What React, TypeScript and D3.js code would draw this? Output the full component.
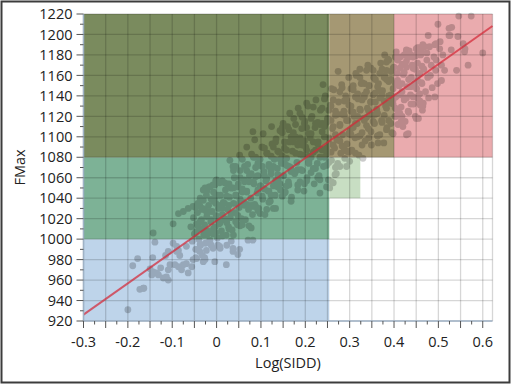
import React from "react";
import * as d3 from "d3";

// ---- data ----
const xTickLabels = [-0.3, -0.2, -0.1, 0, 0.1, 0.2, 0.3, 0.4, 0.5, 0.6];
const yTickLabels = [920, 940, 960, 980, 1000, 1020, 1040, 1060, 1080, 1100, 1120, 1140, 1160, 1180, 1200, 1220];
const xTitle = "Log(SIDD)";
const yTitle = "FMax";

// shaded regions: [x0, x1, y0, y1]
const regionBounds: [number, number, number, number][] = [
  [-0.3, 0.254, 920, 1000],
  [-0.3, 0.254, 1000, 1080],
  [-0.3, 0.254, 1080, 1220],
  [0.254, 0.324, 1040, 1080],
  [0.254, 0.4, 1080, 1220],
  [0.4, 0.622, 1080, 1220],
];
const regionColors = ["#bed4ea", "#7db296", "#7a8b5e", "#c8dec3", "#a59873", "#eaabae"];

// fitted line end points
const fitLine: [number, number][] = [
  [-0.3, 926.2],
  [0.622, 1208.3],
];

// scatter points [Log(SIDD), FMax]
const pointsOuter: [number, number][] = [
  [-0.2, 931], [-0.189, 974], [-0.178, 981], [-0.173, 951], [-0.164, 952], [-0.144, 982], [-0.139, 997], [-0.143, 1006],
  [-0.15, 971], [-0.143, 968], [-0.131, 965], [-0.12, 962], [-0.109, 960], [-0.126, 972], [-0.109, 970], [-0.105, 975],
  [-0.115, 984], [-0.109, 988], [-0.09, 988], [-0.083, 984], [-0.098, 996], [-0.09, 993], [-0.086, 973], [-0.079, 970],
  [-0.068, 976], [-0.056, 973], [-0.064, 967], [-0.053, 980], [-0.045, 981], [-0.03, 978], [-0.026, 980], [-0.004, 978],
  [0.022, 975], [-0.038, 988], [-0.023, 989], [-0.008, 991], [0.007, 993], [0.023, 994], [0.037, 991], [0.052, 990],
  [0.071, 999], [0.082, 999], [0.037, 988], [0.048, 985], [-0.098, 1015], [-0.086, 1025], [-0.075, 1027],
  [-0.064, 1030], [-0.053, 1032], [-0.038, 1033], [-0.03, 1038], [-0.023, 1043], [-0.026, 1050], [-0.015, 1051],
  [-0.004, 1053], [0.007, 1055], [0.082, 1105], [0.086, 1097], [0.068, 1090], [0.052, 1082], [0.03, 1077],
  [0.037, 1071], [0, 1058], [-0.008, 1053], [-0.03, 1048], [-0.165, 952], [-0.086, 989], [-0.068, 993],
  [-0.094, 975], [-0.075, 975], [-0.113, 963], [-0.135, 967], [-0.146, 965],
  [0.546, 1218], [0.574, 1218], [0.499, 1210], [0.524, 1206], [0.524, 1199], [0.477, 1199], [0.544, 1198], [0.495, 1191],
  [0.465, 1190], [0.45, 1186], [0.428, 1185], [0.405, 1183], [0.529, 1185], [0.559, 1183], [0.6, 1182], [0.51, 1180],
  [0.495, 1175], [0.484, 1170], [0.514, 1165], [0.541, 1165], [0.567, 1170], [0.507, 1155], [0.492, 1139], [0.465, 1130],
  [0.45, 1118], [0.428, 1102], [0.42, 1110], [0.405, 1120], [0.398, 1103], [0.383, 1107], [0.53, 1207], [0.526, 1199],
  [0.504, 1193], [0.492, 1190], [0.48, 1188], [0.466, 1188], [0.459, 1183], [0.474, 1182], [0.451, 1180], [0.556, 1191],
  [0.56, 1186], [0.459, 1131], [0.466, 1133], [0.432, 1103], [0.416, 1115], [0.455, 1118],
  [0.379, 1180], [0.383, 1173], [0.341, 1170], [0.323, 1166], [0.315, 1160], [0.274, 1164], [0.259, 1147], [0.24, 1151],
  [0.203, 1133], [0.184, 1128], [0.165, 1123], [0.15, 1113], [0.124, 1110], [0.105, 1103],
  [0.33, 1079], [0.293, 1071], [0.27, 1064], [0.259, 1056], [0.248, 1051], [0.233, 1045], [0.364, 1094],
  [0.278, 1071], [0.267, 1063], [0.263, 1055], [0.255, 1050], [0.3, 1076],
];

const pointsCore: [number, number][] = [
  [-0.058, 1012], [-0.055, 998], [-0.052, 1021], [-0.05, 1005], [-0.047, 990], [-0.045, 1015], [-0.043, 1026], [-0.04, 1000],
  [-0.038, 1010], [-0.036, 994], [-0.034, 1019], [-0.032, 1030],
  [-0.029, 1004], [-0.027, 1014], [-0.025, 996], [-0.022, 1022], [-0.02, 1008], [-0.018, 1033], [-0.015, 999], [-0.013, 1017],
  [-0.01, 1027], [-0.008, 1005], [-0.005, 1040], [-0.003, 1012], [-0.001, 1023],
  [0.002, 1001], [0.004, 1030], [0.006, 1015], [0.009, 1043], [0.011, 1008], [0.013, 1024], [0.015, 1036], [0.018, 1019],
  [0.02, 1048], [0.022, 1004], [0.025, 1029], [0.027, 1012], [0.029, 1041],
  [0.031, 1021], [0.033, 1050], [0.035, 1009], [0.038, 1035], [0.04, 1060], [0.042, 1026], [0.044, 1043], [0.047, 1014],
  [0.049, 1054], [0.051, 1031], [0.053, 1067], [0.056, 1020], [0.058, 1046],
  [0.061, 1036], [0.063, 1058], [0.065, 1019], [0.068, 1047], [0.07, 1073], [0.072, 1029], [0.074, 1062], [0.077, 1040],
  [0.079, 1083], [0.081, 1024], [0.084, 1054], [0.086, 1034], [0.088, 1070],
  [0.091, 1045], [0.093, 1062], [0.095, 1030], [0.098, 1078], [0.1, 1052], [0.102, 1090], [0.104, 1039], [0.107, 1066],
  [0.109, 1024], [0.111, 1057], [0.114, 1084], [0.116, 1047], [0.118, 1071],
  [0.121, 1037], [0.123, 1064], [0.125, 1093], [0.128, 1052], [0.13, 1078], [0.132, 1043], [0.134, 1098], [0.137, 1069],
  [0.139, 1058], [0.141, 1085], [0.144, 1048], [0.146, 1074], [0.148, 1104],
  [0.151, 1062], [0.153, 1089], [0.155, 1046], [0.158, 1079], [0.16, 1110], [0.162, 1056], [0.164, 1095], [0.167, 1070],
  [0.169, 1041], [0.171, 1086], [0.174, 1118], [0.176, 1064], [0.178, 1100],
  [0.181, 1075], [0.183, 1053], [0.185, 1094], [0.188, 1123], [0.19, 1068], [0.192, 1108], [0.194, 1082], [0.197, 1047],
  [0.199, 1115], [0.201, 1090], [0.204, 1060], [0.206, 1130], [0.208, 1076],
  [0.211, 1099], [0.213, 1065], [0.215, 1120], [0.218, 1085], [0.22, 1054], [0.222, 1109], [0.224, 1136], [0.227, 1074],
  [0.229, 1095], [0.231, 1062], [0.234, 1126], [0.236, 1088], [0.238, 1113],
  [0.241, 1071], [0.243, 1100], [0.245, 1140], [0.248, 1083], [0.25, 1118], [0.252, 1058], [0.254, 1093], [0.257, 1131],
  [0.259, 1077], [0.261, 1108], [0.264, 1146], [0.266, 1089], [0.268, 1121],
  [0.271, 1097], [0.273, 1072], [0.275, 1134], [0.278, 1111], [0.28, 1084], [0.282, 1151], [0.284, 1102], [0.287, 1125],
  [0.289, 1079], [0.291, 1140], [0.294, 1093], [0.296, 1116], [0.298, 1158],
  [0.301, 1106], [0.303, 1130], [0.305, 1087], [0.308, 1146], [0.31, 1120], [0.312, 1099], [0.314, 1162], [0.317, 1113],
  [0.319, 1137], [0.321, 1082], [0.324, 1126], [0.326, 1152], [0.328, 1104],
  [0.331, 1118], [0.333, 1141], [0.335, 1096], [0.338, 1165], [0.34, 1128], [0.342, 1108], [0.344, 1150], [0.347, 1134],
  [0.349, 1092], [0.351, 1121], [0.354, 1158], [0.356, 1113], [0.358, 1143],
  [0.361, 1127], [0.363, 1101], [0.365, 1152], [0.368, 1138], [0.37, 1172], [0.372, 1116], [0.374, 1145], [0.377, 1094],
  [0.379, 1160], [0.381, 1130], [0.384, 1109], [0.386, 1176], [0.388, 1140],
  [0.391, 1133], [0.393, 1156], [0.395, 1104], [0.398, 1147], [0.4, 1168], [0.402, 1120], [0.404, 1139], [0.407, 1162],
  [0.409, 1112], [0.411, 1150], [0.414, 1178], [0.416, 1129], [0.418, 1144],
  [0.421, 1161], [0.423, 1136], [0.425, 1115], [0.428, 1174], [0.43, 1149], [0.432, 1125], [0.434, 1184], [0.437, 1141],
  [0.439, 1158], [0.441, 1170], [0.444, 1132], [0.446, 1152], [0.448, 1120],
  [0.451, 1147], [0.453, 1172], [0.455, 1161], [0.458, 1135], [0.46, 1180], [0.462, 1153], [0.464, 1126], [0.467, 1166],
  [0.469, 1188], [0.471, 1144], [0.474, 1175], [0.476, 1158], [0.478, 1138],
  [0.482, 1160], [0.486, 1148], [0.49, 1178], [0.494, 1165], [0.498, 1152], [0.503, 1186], [0.507, 1170],
];

const pointsDenseA: [number, number][] = [
  [-0.047, 982], [-0.047, 1007], [-0.047, 1031], [-0.037, 995], [-0.037, 1017], [-0.037, 1040],
  [-0.027, 982], [-0.027, 1005], [-0.027, 1029], [-0.017, 997], [-0.017, 1027], [-0.017, 1051],
  [-0.007, 1010], [-0.007, 1037], [-0.007, 1046], [0.003, 994], [0.003, 1019], [0.003, 1043],
  [0.013, 1003], [0.013, 1030], [0.013, 1057], [0.023, 1016], [0.023, 1042], [0.023, 1054],
  [0.033, 998], [0.033, 1025], [0.033, 1050], [0.043, 1017], [0.043, 1043], [0.043, 1071],
  [0.053, 1013], [0.053, 1039], [0.053, 1060], [0.063, 1033], [0.063, 1056], [0.063, 1071],
  [0.073, 1013], [0.073, 1032], [0.073, 1056], [0.083, 1032], [0.083, 1056], [0.083, 1080],
  [0.093, 1028], [0.093, 1048], [0.093, 1074], [0.103, 1042], [0.103, 1071], [0.103, 1090],
  [0.113, 1029], [0.113, 1059], [0.113, 1084], [0.123, 1043], [0.123, 1067], [0.123, 1081],
  [0.133, 1030], [0.133, 1057], [0.133, 1095], [0.143, 1054], [0.143, 1078], [0.143, 1106],
  [0.153, 1045], [0.153, 1074], [0.153, 1095], [0.163, 1053], [0.163, 1071], [0.163, 1107],
  [0.173, 1066], [0.173, 1095], [0.173, 1104], [0.183, 1048], [0.183, 1068], [0.183, 1092],
  [0.193, 1067], [0.193, 1092], [0.193, 1119], [0.203, 1057], [0.203, 1087], [0.203, 1109],
  [0.213, 1080], [0.213, 1103], [0.213, 1118], [0.223, 1069], [0.223, 1087], [0.223, 1113],
  [0.233, 1058], [0.233, 1080], [0.233, 1112], [0.243, 1080], [0.243, 1110], [0.243, 1137],
  [0.253, 1075], [0.253, 1099], [0.253, 1126], [0.263, 1092], [0.263, 1110], [0.263, 1136],
  [0.273, 1074], [0.273, 1097], [0.273, 1122], [0.283, 1091], [0.283, 1122], [0.283, 1148],
  [0.293, 1086], [0.293, 1116], [0.293, 1136], [0.303, 1102], [0.303, 1125], [0.303, 1147],
  [0.313, 1084], [0.313, 1113], [0.313, 1139], [0.323, 1101], [0.323, 1127], [0.323, 1158],
  [0.333, 1116], [0.333, 1139], [0.333, 1152], [0.343, 1099], [0.343, 1125], [0.343, 1150],
  [0.353, 1115], [0.353, 1141], [0.353, 1165], [0.363, 1101], [0.363, 1123], [0.363, 1149],
  [0.373, 1114], [0.373, 1141], [0.373, 1166], [0.383, 1128], [0.383, 1156], [0.383, 1165],
  [0.393, 1113], [0.393, 1141], [0.393, 1164], [0.403, 1128], [0.403, 1152], [0.403, 1178],
  [0.413, 1123], [0.413, 1141], [0.413, 1167], [0.423, 1138], [0.423, 1163], [0.423, 1180],
  [0.433, 1124], [0.433, 1156], [0.433, 1178], [0.443, 1139], [0.443, 1167], [0.443, 1178],
  [0.453, 1138], [0.453, 1155], [0.453, 1187], [0.463, 1152], [0.463, 1169], [0.463, 1182],
];

const pointsDenseB: [number, number][] = [
  [-0.042, 990], [-0.042, 1013], [-0.042, 1035], [-0.032, 984], [-0.032, 1010], [-0.032, 1029],
  [-0.022, 1004], [-0.022, 1026], [-0.022, 1047], [-0.012, 994], [-0.012, 1019], [-0.012, 1039],
  [-0.002, 1006], [-0.002, 1035], [-0.002, 1057], [0.008, 991], [0.008, 1016], [0.008, 1033],
  [0.018, 1020], [0.018, 1035], [0.018, 1055], [0.028, 1010], [0.028, 1033], [0.028, 1054],
  [0.038, 1004], [0.038, 1050], [0.038, 1067], [0.048, 1023], [0.048, 1034], [0.048, 1051],
  [0.058, 1014], [0.058, 1049], [0.058, 1078], [0.068, 1034], [0.068, 1046], [0.068, 1067],
  [0.078, 1011], [0.078, 1033], [0.078, 1064], [0.088, 1032], [0.088, 1061], [0.088, 1080],
  [0.098, 1025], [0.098, 1052], [0.098, 1072], [0.108, 1049], [0.108, 1062], [0.108, 1089],
  [0.118, 1036], [0.118, 1047], [0.118, 1073], [0.128, 1030], [0.128, 1071], [0.128, 1090],
  [0.138, 1051], [0.138, 1063], [0.138, 1086], [0.148, 1042], [0.148, 1081], [0.148, 1109],
  [0.158, 1052], [0.158, 1072], [0.158, 1087], [0.168, 1037], [0.168, 1066], [0.168, 1100],
  [0.178, 1066], [0.178, 1084], [0.178, 1112], [0.188, 1056], [0.188, 1083], [0.188, 1099],
  [0.198, 1054], [0.198, 1096], [0.198, 1113], [0.208, 1074], [0.208, 1081], [0.208, 1103],
  [0.218, 1069], [0.218, 1095], [0.218, 1129], [0.228, 1060], [0.228, 1093], [0.228, 1114],
  [0.238, 1087], [0.238, 1105], [0.238, 1128], [0.248, 1072], [0.248, 1089], [0.248, 1114],
  [0.258, 1085], [0.258, 1116], [0.258, 1130], [0.268, 1070], [0.268, 1102], [0.268, 1125],
  [0.278, 1096], [0.278, 1112], [0.278, 1144], [0.288, 1088], [0.288, 1121], [0.288, 1135],
  [0.298, 1085], [0.298, 1103], [0.298, 1131], [0.308, 1109], [0.308, 1124], [0.308, 1150],
  [0.318, 1100], [0.318, 1120], [0.318, 1142], [0.328, 1092], [0.328, 1136], [0.328, 1153],
  [0.338, 1111], [0.338, 1119], [0.338, 1144], [0.348, 1105], [0.348, 1134], [0.348, 1167],
  [0.358, 1122], [0.358, 1134], [0.358, 1156], [0.368, 1102], [0.368, 1145], [0.368, 1162],
  [0.378, 1121], [0.378, 1135], [0.378, 1158], [0.388, 1116], [0.388, 1154], [0.388, 1175],
  [0.398, 1132], [0.398, 1136], [0.398, 1167], [0.408, 1126], [0.408, 1155], [0.408, 1175],
  [0.418, 1120], [0.418, 1152], [0.418, 1171], [0.428, 1138], [0.428, 1168], [0.428, 1184],
  [0.438, 1132], [0.438, 1149], [0.438, 1180], [0.448, 1149], [0.448, 1166], [0.448, 1179],
  [0.458, 1142], [0.458, 1162], [0.458, 1187],
];

const W = 515;
const H = 388;
const FONT = "'Open Sans', 'DejaVu Sans', sans-serif";

export default function App() {
  const x = d3.scaleLinear().domain([-0.3, 0.622]).range([83.5, 492.5]);
  const y = d3.scaleLinear().domain([920, 1220]).range([321, 14]);
  const [x0, x1] = x.range();
  const [yb, yt] = y.range();

  const xGrid = d3.range(-0.3, 0.6001, 0.05);
  const xMinor = d3.range(-0.275, 0.6201, 0.05);
  const yGrid = yTickLabels;
  const yMinor = d3.range(930, 1220, 20);

  const allPoints = [...pointsOuter, ...pointsCore, ...pointsDenseA, ...pointsDenseB];

  const line = d3
    .line<[number, number]>()
    .x((d) => x(d[0]))
    .y((d) => y(d[1]));

  const fmtX = (v: number) => {
    const r = Math.round(v * 10) / 10;
    return r === 0 ? "0" : String(r);
  };

  return (
    <svg
      width={W}
      height={H}
      style={{ position: "absolute", left: 0, top: 0, background: "#fff" }}
      fontFamily={FONT}
    >
      <rect x={0} y={0} width={W} height={H} fill="#fff" />
      <rect x={1.5} y={1.5} width={508} height={381} fill="#fff" stroke="#3c3c3c" strokeWidth={2} />

      <rect x={x0} y={yt} width={x1 - x0} height={yb - yt} fill="#fff" />

      {regionBounds.map((b, i) => (
        <rect
          key={i}
          x={x(b[0])}
          y={y(b[3])}
          width={x(b[1]) - x(b[0])}
          height={y(b[2]) - y(b[3])}
          fill={regionColors[i]}
        />
      ))}

      <g stroke="#000" strokeOpacity={0.16} strokeWidth={1.3}>
        {xGrid.map((v, i) => (
          <line key={"gx" + i} x1={x(v)} x2={x(v)} y1={yt} y2={yb} />
        ))}
        {yGrid.map((v, i) => (
          <line key={"gy" + i} x1={x0} x2={x1} y1={y(v)} y2={y(v)} />
        ))}
        <line x1={x1} x2={x1} y1={yt} y2={yb} />
      </g>

      <g opacity={0.2}>
        {allPoints.map((p, i) => (
          <circle key={i} cx={x(p[0])} cy={y(p[1])} r={3.4} fill="#000" />
        ))}
      </g>

      <path d={line(fitLine) || ""} fill="none" stroke="#d42838" strokeOpacity={0.72} strokeWidth={2} />

      <g>
        <line x1={x0} x2={x0} y1={yt} y2={yb + 1} stroke="#9fb2c6" strokeWidth={1.5} />
        <line x1={x0} x2={x1} y1={yb} y2={yb} stroke="#9fb2c6" strokeWidth={1.5} />
        {yGrid.map((v, i) => (
          <line key={"yt" + i} x1={x0 - 7} x2={x0} y1={y(v)} y2={y(v)} stroke="#555" strokeWidth={1} />
        ))}
        {yMinor.map((v, i) => (
          <line key={"ym" + i} x1={x0 - 3.5} x2={x0} y1={y(v)} y2={y(v)} stroke="#555" strokeWidth={1} />
        ))}
        {xGrid.map((v, i) => (
          <line key={"xt" + i} x1={x(v)} x2={x(v)} y1={yb} y2={yb + 7} stroke="#555" strokeWidth={1} />
        ))}
        {xMinor.map((v, i) => (
          <line key={"xm" + i} x1={x(v)} x2={x(v)} y1={yb} y2={yb + 3.5} stroke="#555" strokeWidth={1} />
        ))}
        {yTickLabels.map((v, i) => (
          <text key={"yl" + i} x={72.5} y={y(v)} dy="0.36em" textAnchor="end" fontSize={14.5} fill="#222">
            {v}
          </text>
        ))}
        {xTickLabels.map((v, i) => (
          <text key={"xl" + i} x={x(v)} y={347} textAnchor="middle" fontSize={14.5} fill="#222">
            {fmtX(v)}
          </text>
        ))}
        <text x={(x0 + x1) / 2} y={368} textAnchor="middle" fontSize={14.5} fill="#222">
          {xTitle}
        </text>
        <text
          transform={`translate(25, ${(yt + yb) / 2}) rotate(-90)`}
          textAnchor="middle"
          fontSize={14.5}
          fill="#222"
        >
          {yTitle}
        </text>
      </g>
    </svg>
  );
}
